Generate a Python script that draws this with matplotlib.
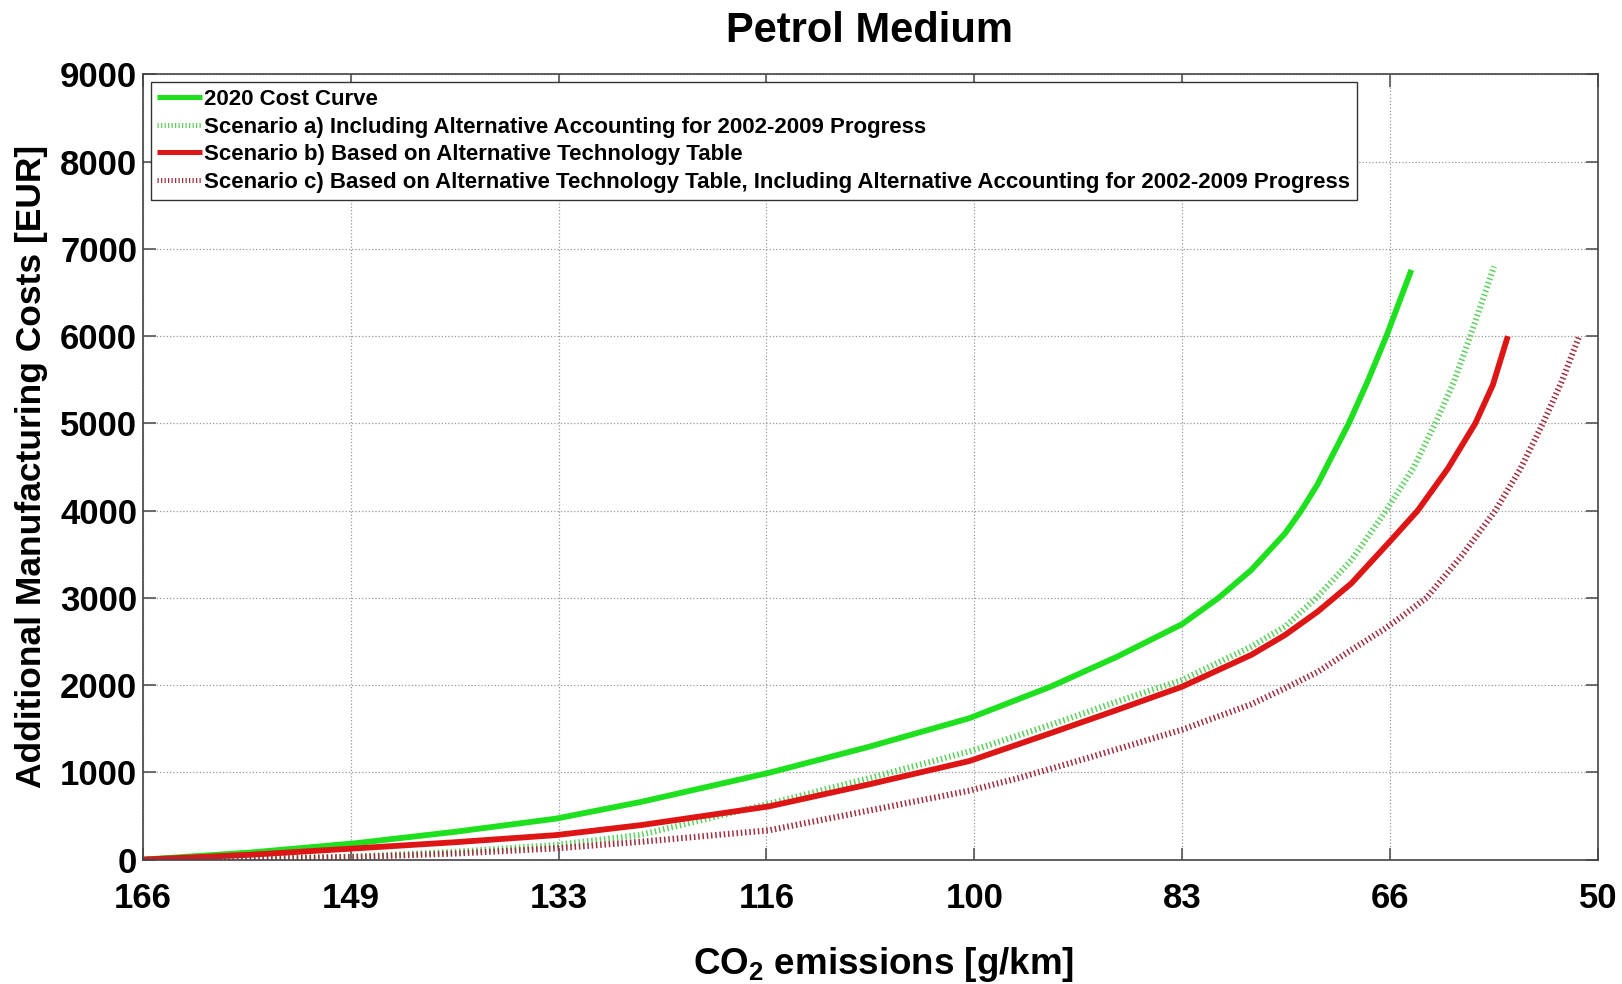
import matplotlib
matplotlib.use("Agg")
import matplotlib.pyplot as plt

plt.rcParams['font.family'] = ['Liberation Sans', 'DejaVu Sans']
plt.rcParams['font.weight'] = 'bold'
plt.rcParams['mathtext.fontset'] = 'custom'
plt.rcParams['mathtext.rm'] = 'Liberation Sans:bold'
plt.rcParams['mathtext.it'] = 'Liberation Sans:bold'
plt.rcParams['mathtext.bf'] = 'Liberation Sans:bold'

# CO2 baseline and reduction steps used for the x ticks
baseline = 166.0
reductions = [0.0, 0.1, 0.2, 0.3, 0.4, 0.5, 0.6, 0.7]
xtick_labels = ['166', '149', '133', '116', '100', '83', '66', '50']
yticks = [0, 1000, 2000, 3000, 4000, 5000, 6000, 7000, 8000, 9000]

# 2020 cost curve
co2_2020 = [166, 157.5, 149, 141, 133, 126.2, 116, 108.1, 100, 93.5, 88.2, 83,
            80.1, 77.5, 74.8, 73.5, 72.2, 69.7, 68.2, 66.7, 64.7]
cost_2020 = [0, 80, 188, 320, 470, 662, 995, 1290, 1621, 1983, 2326, 2700,
             3000, 3318, 3738, 4000, 4300, 5000, 5480, 6000, 6760]

# Scenario a) alternative accounting for 2002-2009 progress
co2_a = [166, 157.5, 149, 141, 133, 126.2, 116, 108.1, 100, 93.5, 88.2, 83,
         77.5, 74.8, 72.2, 69.5, 66.9, 64.5, 62.8, 61.3, 60.0, 58.1]
cost_a = [0, 10, 35, 90, 167, 285, 640, 930, 1240, 1545, 1811, 2060,
          2441, 2670, 3013, 3432, 3962, 4500, 5000, 5480, 6000, 6800]

# Scenario b) alternative technology table
co2_b = [166, 157.5, 149, 141, 133, 126.2, 116, 108.1, 100, 93.5, 88.2, 83,
         77.5, 74.8, 72.2, 69.5, 66.4, 64.2, 61.8, 59.6, 58.2, 57.0]
cost_b = [0, 55, 129, 200, 281, 396, 610, 860, 1130, 1450, 1716, 1983,
          2346, 2574, 2841, 3166, 3650, 4000, 4480, 5000, 5440, 6000]

# Scenario c) alternative technology table + alternative accounting
co2_c = [166, 157.5, 149, 141, 133, 126.2, 116, 108.1, 100, 96.2, 90.9, 83,
         77.5, 74.8, 72.2, 69.5, 66.9, 65.5, 63.5, 60.7, 58.0, 56.0, 54.2, 52.7, 51.3]
cost_c = [0, 8, 30, 70, 129, 205, 336, 560, 790, 930, 1150, 1490,
          1780, 1964, 2150, 2403, 2640, 2784, 3000, 3480, 4000, 4480, 5000, 5480, 6000]

fig = plt.figure(figsize=(16.22, 9.84), dpi=100)
ax = fig.add_axes([0.088, 0.1264, 0.8972, 0.7979])

dots = (0, (0.25, 0.45))
ax.plot(co2_2020, cost_2020, color='#1fe01f', lw=4.2, solid_capstyle='butt',
        solid_joinstyle='round', label='2020 Cost Curve')
ax.plot(co2_a, cost_a, color='#5fd060', lw=4.4, linestyle=dots,
        label='Scenario a) Including Alternative Accounting for 2002-2009 Progress')
ax.plot(co2_b, cost_b, color='#dd1515', lw=4.2, solid_capstyle='butt',
        solid_joinstyle='round', label='Scenario b) Based on Alternative Technology Table')
ax.plot(co2_c, cost_c, color='#a03040', lw=4.4, linestyle=dots,
        label='Scenario c) Based on Alternative Technology Table, Including Alternative Accounting for 2002-2009 Progress')

xticks = [baseline * (1 - r) for r in reductions]
ax.set_xlim(xticks[0], xticks[-1])
ax.set_ylim(0, 9000)
ax.set_xticks(xticks)
ax.set_xticklabels(xtick_labels)
ax.set_yticks(yticks)
ax.grid(True, linestyle=':', color='#999999', lw=0.9)

ax.tick_params(direction='in', length=9, width=1.2, color='#555555',
               top=True, right=True, labelsize=25)
ax.tick_params(axis='x', pad=16)
ax.tick_params(axis='y', pad=4)
for s in ax.spines.values():
    s.set_color('#444444')
    s.set_linewidth(1.2)

leg = ax.legend(loc='upper left', fontsize=16, frameon=True, fancybox=False,
                framealpha=1, edgecolor='#333333', borderaxespad=0.35,
                handlelength=2.0, handletextpad=0.1, labelspacing=0.3,
                borderpad=0.3)
leg.get_frame().set_linewidth(1.0)
for h in leg.get_lines():
    h.set_linewidth(3.6)

fig.text(0.536, 0.968, 'Petrol Medium', ha='center', va='center', fontsize=30)
fig.text(0.545, 0.02, 'CO$_2$ emissions [g/km]', ha='center', va='center', fontsize=26.5)
fig.text(0.0195, 0.526, 'Additional Manufacturing Costs [EUR]', ha='center', va='center',
         rotation=90, fontsize=25.5)

fig.savefig('out.png', dpi=100)
